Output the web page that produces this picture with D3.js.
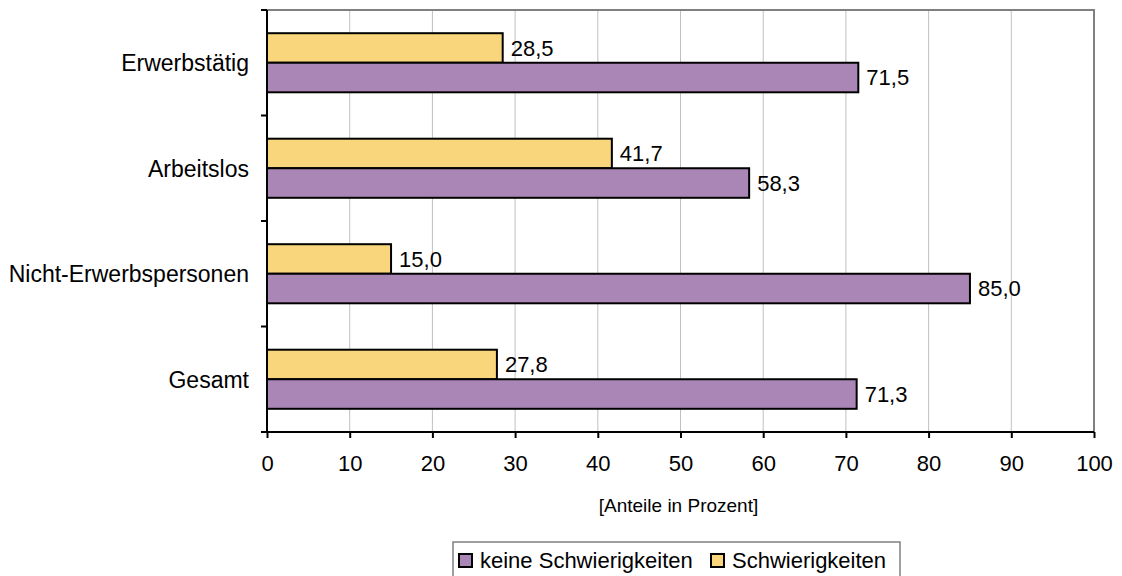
<!DOCTYPE html>
<html>
<head>
<meta charset="utf-8">
<script src="https://cdn.jsdelivr.net/npm/d3@7"></script>
<style>
  body { margin: 0; background: #fff; }
  text { font-family: "Liberation Sans", Arial, sans-serif; fill: #000; }
</style>
</head>
<body>
<svg class="chart"></svg>
<script>
// data
var categories = ["Erwerbstätig", "Arbeitslos", "Nicht-Erwerbspersonen", "Gesamt"];
var seriesNames = ["Schwierigkeiten", "keine Schwierigkeiten"];
var schwierig = [28.5, 41.7, 15.0, 27.8];
var keine = [71.5, 58.3, 85.0, 71.3];
var xTicks = [0, 10, 20, 30, 40, 50, 60, 70, 80, 90, 100];

var colors = {"Schwierigkeiten": "#F9D67C", "keine Schwierigkeiten": "#A986B6"};
var fontSize = "22px";

var W = 1122, H = 576;
var margin = {top: 10, right: 28, bottom: 144, left: 267},
  width = W - margin.left - margin.right,
  height = H - margin.top - margin.bottom;

var chart = d3.select(".chart").attr("width", W).attr("height", H);
var body = chart.append("g")
  .attr("transform", "translate(" + margin.left + "," + margin.top + ")");

var x = d3.scaleLinear().domain([0, 100]).range([0, width]);
var y = d3.scaleBand().domain(categories).range([0, height]).paddingInner(0.44).paddingOuter(0.22);
var sub = d3.scaleBand().domain(seriesNames).range([0, y.bandwidth()]);

// gridlines
body.append("g").selectAll("line")
  .data(xTicks.slice(1, -1))
  .enter().append("line")
  .attr("x1", function(d) { return x(d); })
  .attr("x2", function(d) { return x(d); })
  .attr("y1", 0).attr("y2", height)
  .attr("stroke", "#c0c0c0").attr("stroke-width", 1);

// plot border (top / right)
body.append("path")
  .attr("d", "M0,0H" + width + "V" + height)
  .attr("fill", "none").attr("stroke", "#808080").attr("stroke-width", 2);

// bars
var rows = categories.map(function(c, i) {
  return [{cat: c, s: "Schwierigkeiten", v: schwierig[i]},
          {cat: c, s: "keine Schwierigkeiten", v: keine[i]}];
});
var flat = [].concat.apply([], rows);

body.append("g").selectAll("rect")
  .data(flat).enter().append("rect")
  .attr("x", x(0))
  .attr("y", function(d) { return y(d.cat) + sub(d.s); })
  .attr("width", function(d) { return x(d.v) - x(0); })
  .attr("height", sub.bandwidth())
  .attr("fill", function(d) { return colors[d.s]; })
  .attr("stroke", "#000").attr("stroke-width", 2);

body.append("g").selectAll("text")
  .data(flat).enter().append("text")
  .attr("x", function(d) { return x(d.v) + 8; })
  .attr("y", function(d) { return y(d.cat) + sub(d.s) + sub.bandwidth() / 2; })
  .attr("dy", "0.36em")
  .style("font-size", fontSize)
  .text(function(d) { return d3.format(".1f")(d.v).replace(".", ","); });

// x axis
var xAxis = d3.axisBottom(x).tickValues(xTicks).tickSize(6).tickPadding(17).tickSizeOuter(0);
var gx = body.append("g").attr("transform", "translate(0," + height + ")").call(xAxis);
gx.select(".domain").attr("stroke", "#000").attr("stroke-width", 2).attr("d", "M-6,0H" + width);
gx.selectAll(".tick line").attr("stroke", "#000").attr("stroke-width", 2);
gx.selectAll(".tick text").style("font-size", fontSize).style("font-family", "Liberation Sans, Arial, sans-serif");

// y axis: ticks at band boundaries
var gy = body.append("g");
gy.append("line").attr("x1", 0).attr("x2", 0).attr("y1", 0).attr("y2", height)
  .attr("stroke", "#000").attr("stroke-width", 2);
var bounds = categories.map(function(c) { return y(c) - y.step() * 0.22; });
gy.selectAll(".yt").data(bounds).enter().append("line")
  .attr("x1", -6).attr("x2", 0)
  .attr("y1", function(d) { return d; }).attr("y2", function(d) { return d; })
  .attr("stroke", "#000").attr("stroke-width", 2);
gy.selectAll("text").data(categories).enter().append("text")
  .attr("x", -18)
  .attr("y", function(d) { return y(d) + y.bandwidth() / 2; })
  .attr("dy", "0.36em")
  .attr("text-anchor", "end")
  .style("font-size", "23px")
  .text(function(d) { return d; });

// axis title
chart.append("text")
  .attr("x", margin.left + width / 2 - 2)
  .attr("y", 505)
  .attr("dy", "0.36em")
  .attr("text-anchor", "middle")
  .style("font-size", "19px")
  .text("[Anteile in Prozent]");

// legend
var legend = chart.append("g").attr("transform", "translate(453,542)");
legend.append("rect").attr("x", 0).attr("y", 0).attr("width", 447).attr("height", 40)
  .attr("fill", "#fff").attr("stroke", "#808080").attr("stroke-width", 1.5);
var legendItems = [
  {name: "keine Schwierigkeiten", x: 5},
  {name: "Schwierigkeiten", x: 257}
];
var li = legend.selectAll(".li").data(legendItems).enter().append("g")
  .attr("transform", function(d) { return "translate(" + d.x + ",0)"; });
li.append("rect").attr("x", 1).attr("y", 12).attr("width", 13).attr("height", 13)
  .attr("fill", function(d) { return colors[d.name]; })
  .attr("stroke", "#000").attr("stroke-width", 2);
li.append("text").attr("x", 22).attr("y", 18).attr("dy", "0.36em")
  .style("font-size", fontSize)
  .text(function(d) { return d.name; });
</script>
</body>
</html>
